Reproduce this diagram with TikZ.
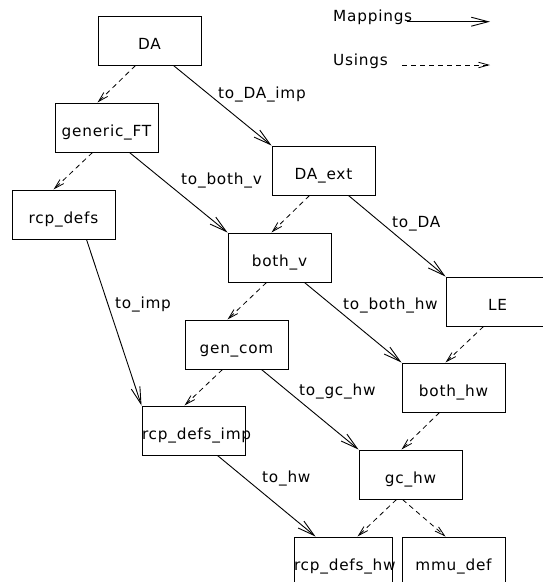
\documentclass[tikz,border=0pt]{standalone}
\usepackage{fontspec}
\setmainfont{DejaVu Sans}[LetterSpace=5]
\usetikzlibrary{arrows.meta,calc}

\begin{document}
\begin{tikzpicture}[x=1pt,y=-1pt,
		font=\fontsize{15.3pt}{18pt}\selectfont,
		box/.style={draw,line width=1pt,inner sep=0pt,text width=103pt,align=center,
			minimum height=49pt,text height=17.2pt,text depth=0pt},
		maparr/.style={line width=0.9pt,-{Straight Barb[length=17pt,width=9pt]}},
		usearr/.style={line width=0.8pt,dash pattern=on 5pt off 4pt,
			-{Straight Barb[length=10pt,width=5.5pt]}},
		lbl/.style={anchor=base west,inner sep=0pt}]
		\useasboundingbox (0,0) rectangle (543,582);
		\node[box] (DA) at (149.5,40.5) {DA};
		\node[box] (FT) at (106.5,127.5) {generic\_FT};
		\node[box] (Ext) at (323.5,170.5) {DA\_ext};
		\node[box] (Rcp) at (63.5,214.5) {rcp\_defs};
		\node[box] (Bv) at (279.5,257.5) {both\_v};
		\node[box] (LE) at (497.5,301.5) {LE};
		\node[box] (Gen) at (236.5,344.5) {gen\_com};
		\node[box] (Bhw) at (453.5,387.5) {both\_hw};
		\node[box] (RcpI) at (193.5,430.5) {rcp\_defs\_imp};
		\node[box] (Gc) at (410.5,474.5) {gc\_hw};
		\node[box,text width=98pt] (RcpH) at (343,561.5) {rcp\_defs\_hw};
		\node[box] (Mmu) at (453.5,561.5) {mmu\_def};
%
		\node[lbl] (lMap) at (333,21.7) {Mappings};
		\coordinate (mapS) at (407,21.7);
		\coordinate (mapE) at (490,21.7);
		\draw[maparr] (mapS) -- (mapE);
		\node[lbl] (lUse) at (333,65) {Usings};
		\coordinate (useS) at (402,65);
		\coordinate (useE) at (490,65);
		\draw[usearr] (useS) -- (useE);
%
		\path[maparr]
			($(DA.south west) + (76,0)$) edge (Ext.north west)
			($(FT.south west) + (75,0)$) edge (Bv.north west)
			($(Ext.south west) + (77,0)$) edge (LE.north west)
			($(Rcp.south west) + (75,0)$) edge (RcpI.north west)
			($(Bv.south west) + (77,0)$) edge (Bhw.north west)
			($(Gen.south west) + (77,0)$) edge (Gc.north west)
			($(RcpI.south west) + (76,0)$) edge ($(RcpH.north west) + (22,0)$);
		\path[usearr]
			($(DA.south west) + (38,0)$) edge ($(FT.north west) + (43,0)$)
			($(FT.south west) + (38,0)$) edge ($(Rcp.north west) + (42,0)$)
			($(Ext.south west) + (38,0)$) edge ($(Bv.north west) + (44,0)$)
			($(Bv.south west) + (39,0)$) edge ($(Gen.north west) + (43,0)$)
			($(LE.south west) + (38,0)$) edge ($(Bhw.north west) + (44,0)$)
			($(Gen.south west) + (38,0)$) edge ($(RcpI.north west) + (43,0)$)
			($(Bhw.south west) + (38,0)$) edge ($(Gc.north west) + (43,0)$)
			($(Gc.south west) + (38,0)$) edge ($(RcpH.north west) + (64,0)$)
			($(Gc.south west) + (44,0)$) edge ($(Mmu.north west) + (44,0)$);
%
		\node[lbl] (lDAimp) at (218,98) {to\_DA\_imp};
		\node[lbl] (lBv) at (181,184) {to\_both\_v};
		\node[lbl] (lDA) at (392,227.7) {to\_DA};
		\node[lbl] (lImp) at (115,308) {to\_imp};
		\node[lbl] (lBhw) at (343,309) {to\_both\_hw};
		\node[lbl] (lGc) at (299,395) {to\_gc\_hw};
		\node[lbl] (lHw) at (262,482.7) {to\_hw};
	\end{tikzpicture}
\end{document}
